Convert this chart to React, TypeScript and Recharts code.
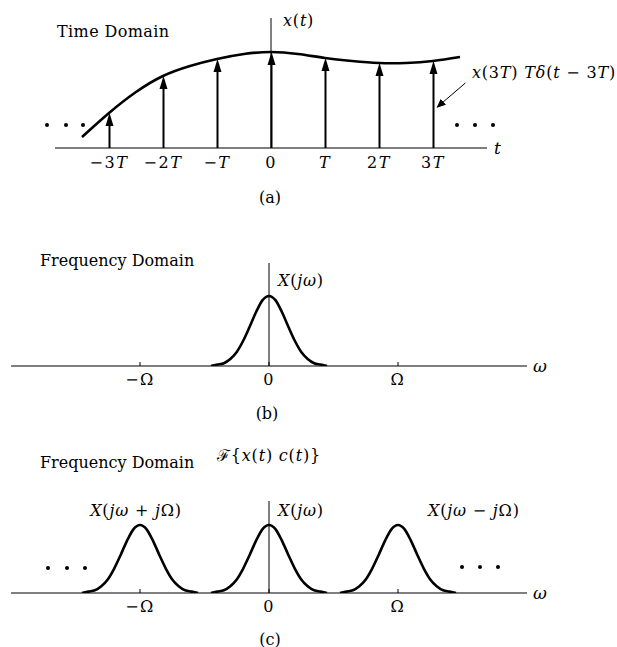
import React from "react";
import { ComposedChart, Line, Bar, XAxis, YAxis, ReferenceLine } from "recharts";

// panel (a): x(t), t in units of T
const timeT = [-3.5, -3, -2.5, -2, -1.5, -1, -0.5, 0, 0.5, 1, 1.5, 2, 2.5, 3, 3.5];
const timeX = [11, 35, 56, 72, 82, 89, 94, 96, 94, 90, 87, 85, 85, 87, 91];
const sampleT = [-3, -2, -1, 0, 1, 2, 3];
const timeTickLabels = ["−3T", "−2T", "−T", "0", "T", "2T", "3T"];

// panels (b) and (c): X(jw) pulse, w in units of Omega
const pulseOffset = [-0.45, -0.4, -0.35, -0.3, -0.25, -0.2, -0.15, -0.1, -0.05, 0, 0.05, 0.1, 0.15, 0.2, 0.25, 0.3, 0.35, 0.4, 0.45];
const pulseShape = [0, 0.02, 0.04, 0.1, 0.2, 0.36, 0.56, 0.77, 0.94, 1, 0.94, 0.77, 0.56, 0.36, 0.2, 0.1, 0.04, 0.02, 0];
const shiftCenters = [-1, 0, 1];
const shiftKeys = ["left", "mid", "right"];
const freqTicks = [-1, 0, 1];
const freqTickLabels = ["−Ω", "0", "Ω"];

const timeData = timeT.map((t, i) => ({
  t,
  x: timeX[i],
  stem: sampleT.includes(t) ? timeX[i] : null,
}));

const pulseData = pulseOffset.map((w, i) => ({ w, X: pulseShape[i] }));

const shiftedData = shiftCenters.flatMap((c, k) =>
  pulseOffset.map((o, i) => ({ w: c + o, [shiftKeys[k]]: pulseShape[i] }))
);

const FONT = "'DejaVu Serif', 'Liberation Serif', serif";

function MathText({ x, y, text, anchor = "start", size = 16, spacing = 0.8 }: any) {
  const runs: { s: string; it: boolean }[] = [];
  for (const ch of text) {
    const it = /[A-Za-zδω]/.test(ch);
    const last = runs[runs.length - 1];
    if (last && last.it === it) last.s += ch;
    else runs.push({ s: ch, it });
  }
  return (
    <text
      x={x}
      y={y}
      textAnchor={anchor}
      dominantBaseline="central"
      fontFamily={FONT}
      fontSize={size}
      letterSpacing={spacing}
      fill="#000"
    >
      {runs.map((r, i) => (
        <tspan key={i} fontStyle={r.it ? "italic" : "normal"}>{r.s}</tspan>
      ))}
    </text>
  );
}

function Plain({ x, y, text, anchor = "start", size = 16, spacing = 0 }: any) {
  return (
    <text
      x={x}
      y={y}
      textAnchor={anchor}
      dominantBaseline="central"
      fontFamily={FONT}
      fontSize={size}
      letterSpacing={spacing}
      fill="#000"
    >
      {text}
    </text>
  );
}

const Impulse = (props: any) => {
  const { x, y, width, height } = props;
  if (height == null || !isFinite(height) || height <= 0) return null;
  const cx = x + width / 2;
  const base = y + height;
  return (
    <g>
      <line x1={cx} x2={cx} y1={base} y2={y + 10} stroke="#000" strokeWidth={2} />
      <polygon points={`${cx},${y} ${cx - 4},${y + 13} ${cx + 4},${y + 13}`} fill="#000" />
    </g>
  );
};

const TimeTick = (props: any) => {
  const { x, y, payload } = props;
  const label = timeTickLabels[sampleT.indexOf(payload.value)];
  return <MathText x={x} y={y + 14} text={label} anchor="middle" size={16} spacing={1.5} />;
};

const FreqTick = (props: any) => {
  const { x, y, payload } = props;
  const label = freqTickLabels[freqTicks.indexOf(payload.value)];
  return (
    <g>
      <line x1={x} x2={x} y1={y} y2={y - 4} stroke="#000" strokeWidth={1} />
      <Plain x={x} y={y + 13} text={label} anchor="middle" spacing={1.5} />
    </g>
  );
};

const Dots = ({ xs, y }: any) => (
  <g>
    {xs.map((x: number) => (
      <circle key={x} cx={x} cy={y} r={2} fill="#000" />
    ))}
  </g>
);

export default function App() {
  return (
    <div style={{ position: "absolute", left: 0, top: 0, width: 617, height: 647, background: "#fff" }}>
      {/* (a) time domain */}
      <div style={{ position: "absolute", left: 0, top: 0 }}>
        <ComposedChart width={617} height={215} data={timeData} margin={{ top: 18, right: 130, bottom: 37, left: 55 }}>
          <defs>
            <marker id="ann-head" markerWidth="9" markerHeight="8" refX="8" refY="4" orient="auto" markerUnits="userSpaceOnUse">
              <path d="M0,0 L9,4 L0,8 z" fill="#000" />
            </marker>
          </defs>
          <XAxis
            dataKey="t"
            type="number"
            domain={[-4, 4]}
            ticks={sampleT}
            interval={0}
            tickLine={false}
            tickSize={0}
            tickMargin={0}
            axisLine={{ stroke: "#000", strokeWidth: 1.2 }}
            tick={TimeTick}
            height={30}
            allowDataOverflow
          />
          <YAxis hide type="number" domain={[0, 130]} allowDataOverflow />
          <ReferenceLine x={0} stroke="#000" strokeWidth={1} />
          <ReferenceLine
            segment={[{ x: 3.6, y: 65 }, { x: 3.08, y: 41 }]}
            stroke="#000"
            strokeWidth={1}
            markerEnd="url(#ann-head)"
          />
          <Bar dataKey="stem" barSize={2} shape={Impulse} isAnimationActive={false} />
          <Line dataKey="x" type="natural" stroke="#000" strokeWidth={2.6} dot={false} isAnimationActive={false} />
          <Plain x={57} y={31} text="Time Domain" size={16} spacing={0.4} />
          <MathText x={283} y={20} text="x(t)" />
          <MathText x={472} y={72} text="x(3T) Tδ(t − 3T)" />
          <MathText x={494} y={148} text="t" size={17} />
          <Plain x={270} y={197} text="(a)" anchor="middle" />
          <Dots xs={[47, 66, 83]} y={125} />
          <Dots xs={[457, 475, 493]} y={125} />
        </ComposedChart>
      </div>

      {/* (b) frequency domain */}
      <div style={{ position: "absolute", left: 0, top: 215 }}>
        <ComposedChart width={617} height={215} data={pulseData} margin={{ top: 48, right: 90, bottom: 34, left: 11 }}>
          <XAxis
            dataKey="w"
            type="number"
            domain={[-2, 2]}
            ticks={freqTicks}
            interval={0}
            tickLine={false}
            tickSize={0}
            tickMargin={0}
            axisLine={{ stroke: "#000", strokeWidth: 1.2 }}
            tick={FreqTick}
            height={30}
            allowDataOverflow
          />
          <YAxis hide type="number" domain={[0, 1.47]} allowDataOverflow />
          <ReferenceLine x={0} stroke="#000" strokeWidth={1} />
          <Line dataKey="X" type="monotone" stroke="#000" strokeWidth={2.6} dot={false} isAnimationActive={false} />
          <Plain x={40} y={45} text="Frequency Domain" />
          <MathText x={278} y={65} text="X(jω)" />
          <MathText x={533} y={151} text="ω" size={17} />
          <Plain x={267} y={198} text="(b)" anchor="middle" />
        </ComposedChart>
      </div>

      {/* (c) frequency domain, sampled */}
      <div style={{ position: "absolute", left: 0, top: 430 }}>
        <ComposedChart width={617} height={217} data={shiftedData} margin={{ top: 71, right: 90, bottom: 24, left: 11 }}>
          <XAxis
            dataKey="w"
            type="number"
            domain={[-2, 2]}
            ticks={freqTicks}
            interval={0}
            tickLine={false}
            tickSize={0}
            tickMargin={0}
            axisLine={{ stroke: "#000", strokeWidth: 1.2 }}
            tick={FreqTick}
            height={30}
            allowDataOverflow
          />
          <YAxis hide type="number" domain={[0, 1.353]} allowDataOverflow />
          <ReferenceLine x={0} stroke="#000" strokeWidth={1} />
          {shiftKeys.map((k) => (
            <Line key={k} dataKey={k} type="monotone" stroke="#000" strokeWidth={2.6} dot={false} isAnimationActive={false} />
          ))}
          <Plain x={40} y={32} text="Frequency Domain" />
          <MathText x={217} y={25} text="ℱ{x(t) c(t)}" />
          <MathText x={136} y={80} text="X(jω + jΩ)" anchor="middle" />
          <MathText x={278} y={80} text="X(jω)" />
          <MathText x={428} y={80} text="X(jω − jΩ)" />
          <MathText x={533} y={163} text="ω" size={17} />
          <Plain x={270} y={209} text="(c)" anchor="middle" />
          <Dots xs={[48, 67, 85]} y={138} />
          <Dots xs={[462, 480, 498]} y={137} />
        </ComposedChart>
      </div>
    </div>
  );
}
